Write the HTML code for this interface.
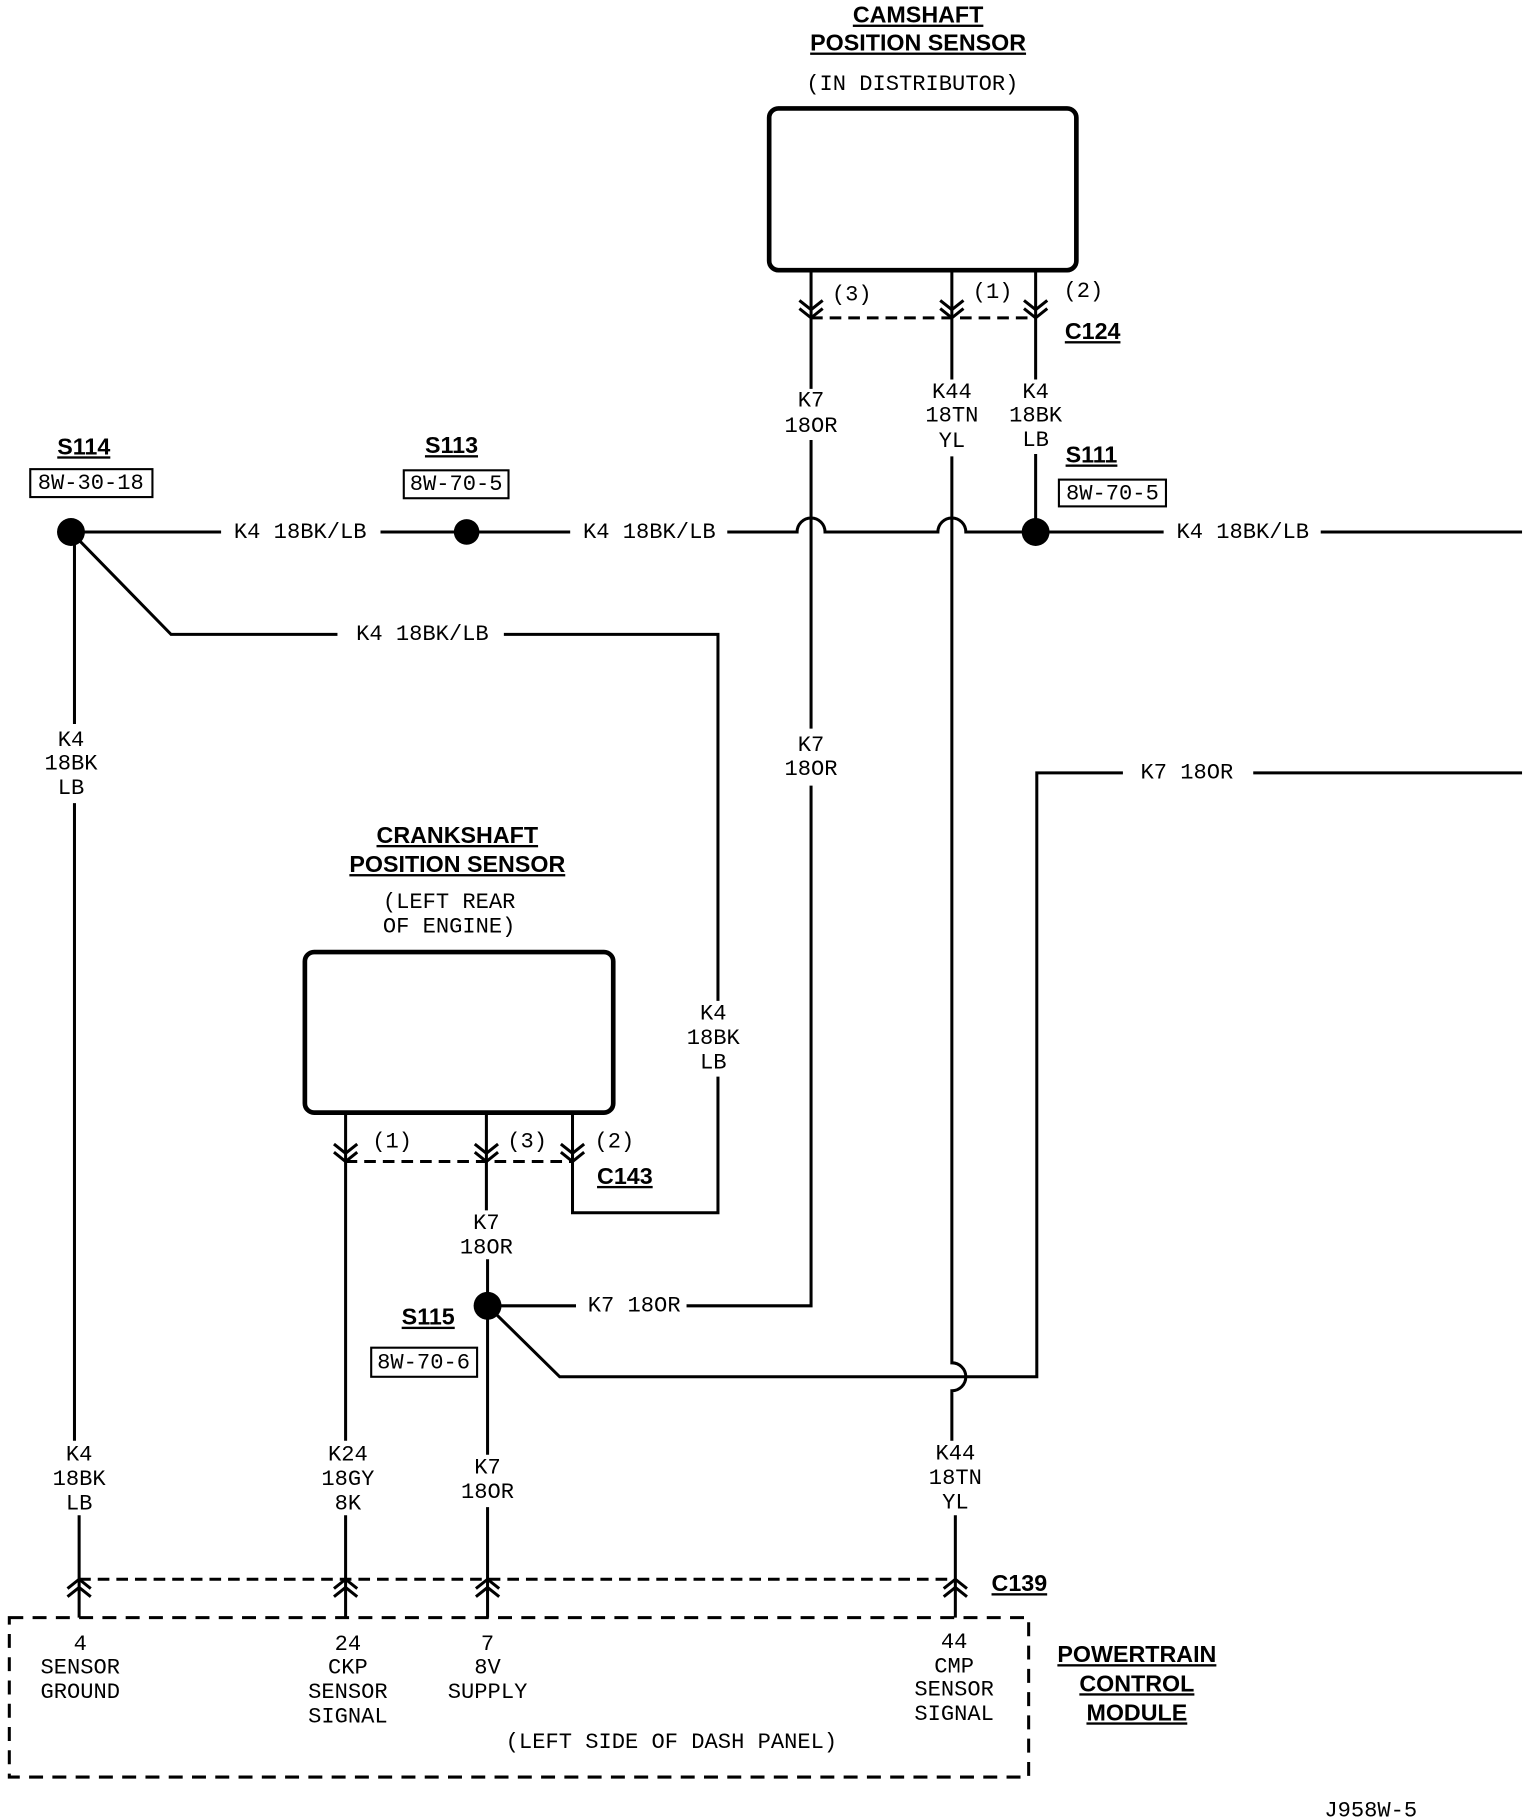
<!DOCTYPE html>
<html><head><meta charset="utf-8"><style>
html,body{margin:0;padding:0;background:#fff;}
svg{display:block}
text{font-family:"Liberation Mono","DejaVu Sans Mono",monospace;font-size:19px;fill:#000;text-anchor:middle;dominant-baseline:middle}
.b{font-weight:bold;text-decoration:underline;font-family:"Liberation Sans",sans-serif;font-size:20px}
.l{text-anchor:start}
</style></head><body>
<svg width="1536" height="1818" viewBox="0 0 1320 1562" xmlns="http://www.w3.org/2000/svg">
<g fill="none" stroke="#000" stroke-width="2.6">
<rect x="661" y="93" width="264" height="139" rx="8" stroke-width="4"/>
<rect x="262" y="818" width="265" height="138" rx="8" stroke-width="4"/>
<line x1="697" y1="232" x2="697" y2="334"/>
<line x1="818" y1="232" x2="818" y2="326"/>
<line x1="890" y1="232" x2="890" y2="326"/>
<path d="M687 258 L697 266 L707 258 M687 265 L697 273 L707 265"/>
<path d="M808 258 L818 266 L828 258 M808 265 L818 273 L828 265"/>
<path d="M880 258 L890 266 L900 258 M880 265 L890 273 L900 265"/>
<line x1="697" y1="273" x2="890" y2="273" stroke-dasharray="10,6"/>
<line x1="697" y1="378" x2="697" y2="626"/>
<path d="M818 392 V1171 A12 12 0 0 1 818 1195 V1238"/>
<line x1="890" y1="390" x2="890" y2="457"/>
<line x1="61" y1="457" x2="190" y2="457"/>
<line x1="327" y1="457" x2="401" y2="457"/>
<path d="M401 457 H490 M625 457 H685 A12 12 0 0 1 709 457 H806 A12 12 0 0 1 830 457 H1000 M1135 457 H1308"/>
<path d="M61 457 L147 545 H290 M433 545 H617 V860 M617 925 V1042 H492 V990"/>
<line x1="64" y1="457" x2="64" y2="622"/>
<line x1="64" y1="690" x2="64" y2="1238"/>
<line x1="68" y1="1302" x2="68" y2="1390"/>
<path d="M697 675 V1122 H590 M495 1122 H419"/>
<path d="M419 1122 L481 1183 H891 V664 H965 M1077 664 H1308"/>
<line x1="297" y1="956" x2="297" y2="1238"/>
<line x1="418" y1="956" x2="418" y2="1040"/>
<line x1="492" y1="956" x2="492" y2="1000"/>
<path d="M287 983 L297 991 L307 983 M287 990 L297 998 L307 990"/>
<path d="M408 983 L418 991 L428 983 M408 990 L418 998 L428 990"/>
<path d="M482 983 L492 991 L502 983 M482 990 L492 998 L502 990"/>
<line x1="297" y1="998" x2="492" y2="998" stroke-dasharray="10,6"/>
<line x1="419" y1="1082" x2="419" y2="1250"/>
<line x1="419" y1="1295" x2="419" y2="1390"/>
<line x1="297" y1="1302" x2="297" y2="1390"/>
<line x1="821" y1="1302" x2="821" y2="1390"/>
<path d="M58 1365 L68 1357 L78 1365 M58 1372 L68 1364 L78 1372"/>
<path d="M287 1365 L297 1357 L307 1365 M287 1372 L297 1364 L307 1372"/>
<path d="M409 1365 L419 1357 L429 1365 M409 1372 L419 1364 L429 1372"/>
<path d="M811 1365 L821 1357 L831 1365 M811 1372 L821 1364 L831 1372"/>
<line x1="68" y1="1357" x2="821" y2="1357" stroke-dasharray="10,6"/>
<rect x="8" y="1390" width="876" height="137" stroke-dasharray="12,8"/>
<rect x="26" y="403" width="105" height="24" stroke-width="1.8"/>
<rect x="347" y="404" width="90" height="24" stroke-width="1.8"/>
<rect x="910" y="412" width="92" height="23" stroke-width="1.8"/>
<rect x="319" y="1158" width="91" height="25" stroke-width="1.8"/>
</g>
<g fill="#000">
<circle cx="61" cy="457" r="12"/><circle cx="401" cy="457" r="11"/>
<circle cx="890" cy="457" r="12"/><circle cx="419" cy="1122" r="12"/>
</g>
<text class="b" x="789" y="14">CAMSHAFT</text>
<text class="b" x="789" y="38">POSITION SENSOR</text>
<text x="784" y="72">(IN DISTRIBUTOR)</text>
<text x="732" y="253">(3)</text><text x="853" y="251">(1)</text><text x="931" y="250">(2)</text>
<text class="b" x="939" y="286">C124</text>
<text x="697" y="344">K7</text><text x="697" y="366">18OR</text>
<text x="818" y="337">K44</text><text x="818" y="357">18TN</text><text x="818" y="379">YL</text>
<text x="890" y="337">K4</text><text x="890" y="357">18BK</text><text x="890" y="378">LB</text>
<text class="b" x="938" y="392">S111</text><text x="956" y="424">8W-70-5</text>
<text class="b" x="72" y="385">S114</text><text x="78" y="415">8W-30-18</text>
<text class="b" x="388" y="384">S113</text><text x="392" y="416">8W-70-5</text>
<text x="258" y="457">K4 18BK/LB</text><text x="558" y="457">K4 18BK/LB</text><text x="1068" y="457">K4 18BK/LB</text>
<text x="363" y="545">K4 18BK/LB</text>
<text x="61" y="636">K4</text><text x="61" y="656">18BK</text><text x="61" y="677">LB</text>
<text x="697" y="640">K7</text><text x="697" y="661">18OR</text>
<text x="1020" y="664">K7 18OR</text>
<text class="b" x="393" y="719">CRANKSHAFT</text>
<text class="b" x="393" y="744">POSITION SENSOR</text>
<text x="386" y="775">(LEFT REAR</text><text x="386" y="796">OF ENGINE)</text>
<text x="613" y="871">K4</text><text x="613" y="892">18BK</text><text x="613" y="913">LB</text>
<text x="337" y="981">(1)</text><text x="453" y="981">(3)</text><text x="528" y="981">(2)</text>
<text class="b" x="537" y="1012">C143</text>
<text x="418" y="1051">K7</text><text x="418" y="1072">18OR</text>
<text x="545" y="1122">K7 18OR</text>
<text class="b" x="368" y="1133">S115</text><text x="364" y="1171">8W-70-6</text>
<text x="68" y="1250">K4</text><text x="68" y="1271">18BK</text><text x="68" y="1292">LB</text>
<text x="299" y="1250">K24</text><text x="299" y="1271">18GY</text><text x="299" y="1292">8K</text>
<text x="419" y="1261">K7</text><text x="419" y="1282">18OR</text>
<text x="821" y="1249">K44</text><text x="821" y="1270">18TN</text><text x="821" y="1291">YL</text>
<text class="b" x="876" y="1362">C139</text>
<text x="69" y="1413">4</text><text x="69" y="1433">SENSOR</text><text x="69" y="1454">GROUND</text>
<text x="299" y="1413">24</text><text x="299" y="1433">CKP</text><text x="299" y="1454">SENSOR</text><text x="299" y="1475">SIGNAL</text>
<text x="419" y="1413">7</text><text x="419" y="1433">8V</text><text x="419" y="1454">SUPPLY</text>
<text x="820" y="1411">44</text><text x="820" y="1432">CMP</text><text x="820" y="1452">SENSOR</text><text x="820" y="1473">SIGNAL</text>
<text x="577" y="1497">(LEFT SIDE OF DASH PANEL)</text>
<text class="b" x="977" y="1423">POWERTRAIN</text><text class="b" x="977" y="1448">CONTROL</text><text class="b" x="977" y="1473">MODULE</text>
<text x="1178" y="1556">J958W-5</text>
</svg>
</body></html>
